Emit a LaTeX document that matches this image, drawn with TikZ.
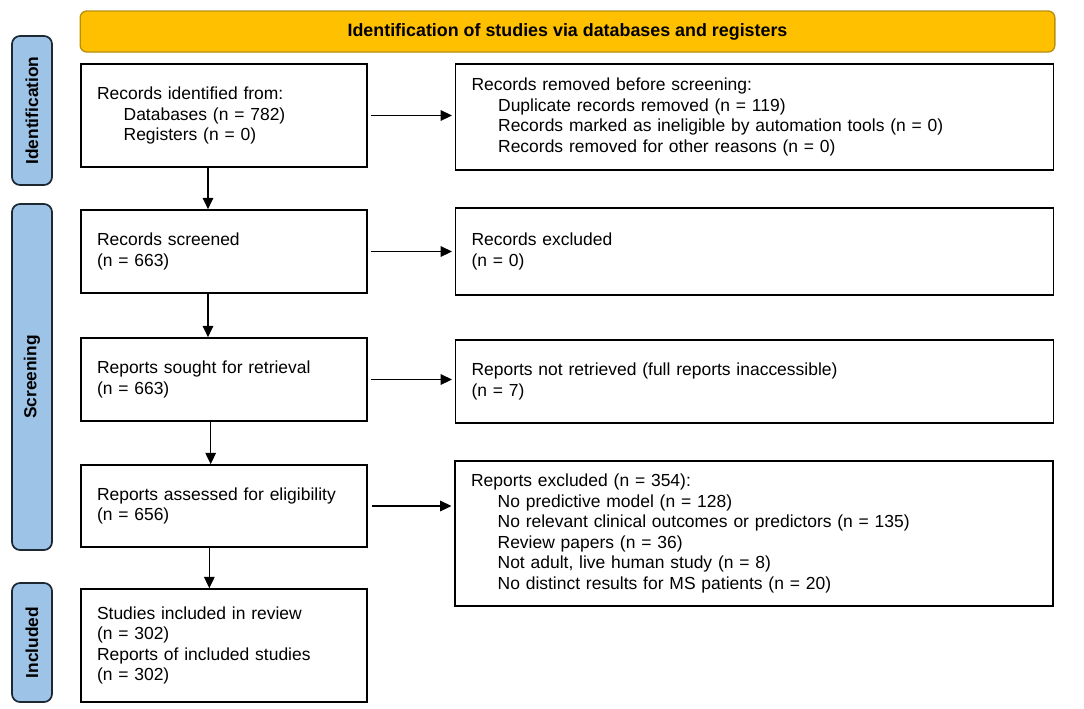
\documentclass[tikz,border=0pt]{standalone}
\usepackage{fontspec}
\setmainfont{Liberation Sans}
\usetikzlibrary{arrows.meta}
\definecolor{bannerfill}{HTML}{FFC000}
\definecolor{bannerline}{HTML}{B8900A}
\definecolor{tabfill}{HTML}{9DC3E6}
\definecolor{tabline}{HTML}{1E2833}
\begin{document}
\begin{tikzpicture}[x=0.75pt,y=-0.75pt,
  every node/.style={font=\fontsize{13.1}{15.4}\selectfont},
  box/.style={draw, line width=1.3pt, align=left, inner xsep=12pt, inner ysep=0pt},
  lbox/.style={box, minimum width=214.5pt, text width=190.5pt},
  rbox/.style={box, minimum width=447.75pt, text width=424.5pt},
  tab/.style={draw=tabline, fill=tabfill, line width=1.3pt, rounded corners=6pt, rotate=90,
    minimum height=30pt, inner sep=0pt, font=\fontsize{13}{15}\selectfont\bfseries},
  arr/.style={line width=0.8pt, -{Triangle[length=8.5pt,width=8pt]}}
]
\useasboundingbox (0,0) rectangle (1084,708);
\newcommand{\ind}{\hspace*{20pt}}
% banner
\node[draw=bannerline, fill=bannerfill, line width=1pt, rounded corners=5pt,
  minimum width=731pt, minimum height=30.75pt, inner sep=0pt,
  font=\fontsize{13.4}{15}\selectfont\bfseries] (banner) at (567.5,31.5)
  {Identification of studies via databases and registers};
% tabs
\node[tab, minimum width=111.75pt] (tid) at (32,110.5) {Identification};
\node[tab, minimum width=259.5pt] (tsc) at (32,377) {Screening};
\node[tab, minimum width=89.25pt] (tin) at (32,642.5) {Included};
% left boxes
\node[lbox, minimum height=77.25pt] (b1) at (224,115.5)
  {Records identified from:\\ \ind Databases (n = 782)\\ \ind Registers (n = 0)};
\node[lbox, minimum height=62.25pt] (b2) at (224,251.5)
  {Records screened\\(n = 663)};
\node[lbox, minimum height=62.25pt] (b3) at (224,379.5)
  {Reports sought for retrieval\\(n = 663)};
\node[lbox, minimum height=61.5pt] (b4) at (224,506)
  {Reports assessed for eligibility\\(n = 656)};
\node[lbox, minimum height=84.75pt] (b5) at (224,645.5)
  {Studies included in review\\(n = 302)\\Reports of included studies\\(n = 302)};
% right boxes
\node[rbox, minimum height=79.5pt] (r1) at (754.5,117)
  {Records removed before screening:\\ \ind Duplicate records removed (n = 119)\\ \ind Records marked as ineligible by automation tools (n = 0)\\ \ind Records removed for other reasons (n = 0)};
\node[rbox, minimum height=65.25pt] (r2) at (754.5,251.5)
  {Records excluded\\(n = 0)};
\node[rbox, minimum height=62.25pt] (r3) at (754.5,381.5)
  {Reports not retrieved (full reports inaccessible)\\(n = 7)};
\node[rbox, minimum height=108.75pt] (r4) at (754,533.5)
  {Reports excluded (n = 354):\\ \ind No predictive model (n = 128)\\ \ind No relevant clinical outcomes or predictors (n = 135)\\ \ind Review papers (n = 36)\\ \ind Not adult, live human study (n = 8)\\ \ind No distinct results for MS patients (n = 20)};
% horizontal arrows
\draw[arr, shorten <=2pt, shorten >=2pt] (b1.east) -- (b1.east -| r1.west);
\draw[arr, shorten <=2pt, shorten >=2pt] (b2.east) -- (b2.east -| r2.west);
\draw[arr, shorten <=2pt, shorten >=2pt] (b3.east) -- (b3.east -| r3.west);
\draw[arr, shorten <=3pt, shorten >=2pt] (b4.east) -- (b4.east -| r4.west);
% vertical arrows
\draw[arr] ([xshift=-12pt]b1.south) -- ([xshift=-12pt]b2.north);
\draw[arr] ([xshift=-12pt]b2.south) -- ([xshift=-12pt]b3.north);
\draw[arr] ([xshift=-10pt]b3.south) -- ([xshift=-10pt]b4.north);
\draw[arr] ([xshift=-11pt]b4.south) -- ([xshift=-11pt]b5.north);
\end{tikzpicture}
\end{document}
